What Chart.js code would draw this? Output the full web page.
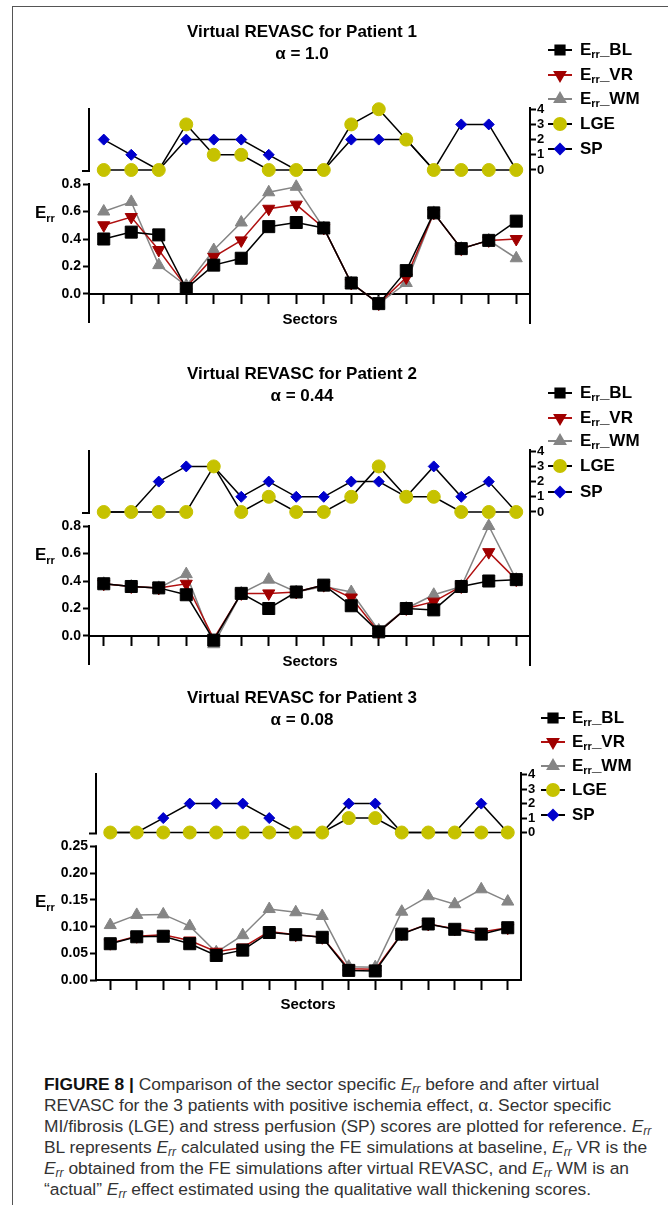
<!DOCTYPE html>
<html>
<head>
<meta charset="utf-8">
<script src="https://cdn.jsdelivr.net/npm/chart.js@4.4.1/dist/chart.umd.min.js"></script>
<style>
  body { margin: 0; background: #fff; }
  #page { position: relative; width: 668px; height: 1205px; overflow: hidden; font-family: "Liberation Sans", Arial, sans-serif; color: #000; }
  .frame-top { position: absolute; left: 12px; top: 6px; width: 656px; height: 1px; background: #555; }
  .frame-left { position: absolute; left: 12px; top: 6px; width: 1px; height: 1199px; background: #555; }
  canvas { position: absolute; left: 0; }
  .title { position: absolute; left: 0; width: 604px; text-align: center; font-weight: bold; font-size: 17px; line-height: 22px; }
  .ylab { position: absolute; font-weight: bold; font-size: 17px; line-height: 20px; }
  .ylab sub { font-size: 11px; vertical-align: -4px; }
  .xlab { position: absolute; width: 200px; text-align: center; font-weight: bold; font-size: 15px; line-height: 20px; }
  .cap { position: absolute; left: 44px; white-space: nowrap; font-size: 17.4px; line-height: 20px; color: #333; }
  .cap b { color: #111; }
  .cap i sub { font-size: 12px; vertical-align: -3px; }
</style>
</head>
<body>
<div id="page">
  <div class="frame-top"></div>
  <div class="frame-left"></div>

  <canvas id="p1" width="668" height="340" style="top:0px"></canvas>
  <canvas id="p2" width="668" height="340" style="top:342px"></canvas>
  <canvas id="p3" width="668" height="330" style="top:680px"></canvas>

  <div class="title" style="top:21px">Virtual REVASC for Patient 1</div>
  <div class="title" style="top:43px">α = 1.0</div>
  <div class="ylab" style="left:35px; top:203px">E<sub>rr</sub></div>
  <div class="xlab" style="left:210px; top:309px">Sectors</div>

  <div class="title" style="top:363px">Virtual REVASC for Patient 2</div>
  <div class="title" style="top:385px">α = 0.44</div>
  <div class="ylab" style="left:35px; top:545px">E<sub>rr</sub></div>
  <div class="xlab" style="left:210px; top:651px">Sectors</div>

  <div class="title" style="top:687px">Virtual REVASC for Patient 3</div>
  <div class="title" style="top:709px">α = 0.08</div>
  <div class="ylab" style="left:35px; top:892px">E<sub>rr</sub></div>
  <div class="xlab" style="left:208px; top:994px">Sectors</div>

  <div class="cap" style="top:1074px"><b>FIGURE 8 |</b> Comparison of the sector specific <i>E<sub>rr</sub></i> before and after virtual</div>
  <div class="cap" style="top:1095px">REVASC for the 3 patients with positive ischemia effect, α. Sector specific</div>
  <div class="cap" style="top:1116px">MI/fibrosis (LGE) and stress perfusion (SP) scores are plotted for reference. <i>E<sub>rr</sub></i></div>
  <div class="cap" style="top:1137px">BL represents <i>E<sub>rr</sub></i> calculated using the FE simulations at baseline, <i>E<sub>rr</sub></i> VR is the</div>
  <div class="cap" style="top:1158px"><i>E<sub>rr</sub></i> obtained from the FE simulations after virtual REVASC, and <i>E<sub>rr</sub></i> WM is an</div>
  <div class="cap" style="top:1179px">“actual” <i>E<sub>rr</sub></i> effect estimated using the qualitative wall thickening scores.</div>
</div>

<script>
  // Sector labels (tick labels are not printed in the figure)
  const SECTORS = ['1', '2', '3', '4', '5', '6', '7', '8', '9', '10', '11', '12', '13', '14', '15', '16'];
  const SCORE_TICKS = [0, 1, 2, 3, 4];
  const ERR_TICKS_12 = [0, 0.2, 0.4, 0.6, 0.8];
  const ERR_TICKS_3 = [0, 0.05, 0.1, 0.15, 0.2, 0.25];

  // Patient 1
  const p1BL = [0.40, 0.45, 0.43, 0.04, 0.21, 0.26, 0.49, 0.52, 0.48, 0.08, -0.07, 0.17, 0.59, 0.33, 0.39, 0.53];
  const p1VR = [0.50, 0.56, 0.32, 0.05, 0.27, 0.39, 0.62, 0.65, 0.48, 0.08, -0.07, 0.12, 0.59, 0.33, 0.39, 0.40];
  const p1WM = [0.60, 0.67, 0.21, 0.06, 0.32, 0.52, 0.74, 0.78, 0.48, 0.08, -0.07, 0.08, 0.59, 0.33, 0.39, 0.26];
  const p1LGE = [0, 0, 0, 3, 1, 1, 0, 0, 0, 3, 4, 2, 0, 0, 0, 0];
  const p1SP = [2, 1, 0, 2, 2, 2, 1, 0, 0, 2, 2, 2, 0, 3, 3, 0];

  // Patient 2
  const p2BL = [0.38, 0.36, 0.35, 0.30, -0.03, 0.31, 0.20, 0.32, 0.37, 0.22, 0.03, 0.20, 0.19, 0.36, 0.40, 0.41];
  const p2VR = [0.38, 0.36, 0.35, 0.38, -0.02, 0.31, 0.31, 0.32, 0.37, 0.28, 0.03, 0.20, 0.25, 0.36, 0.61, 0.41];
  const p2WM = [0.38, 0.36, 0.35, 0.45, -0.06, 0.31, 0.41, 0.32, 0.36, 0.32, 0.04, 0.20, 0.30, 0.36, 0.80, 0.41];
  const p2LGE = [0, 0, 0, 0, 3, 0, 1, 0, 0, 1, 3, 1, 1, 0, 0, 0];
  const p2SP = [0, 0, 2, 3, 3, 1, 2, 1, 1, 2, 2, 1, 3, 1, 2, 0];

  // Patient 3
  const p3BL = [0.068, 0.081, 0.082, 0.068, 0.046, 0.056, 0.089, 0.085, 0.080, 0.018, 0.017, 0.086, 0.105, 0.095, 0.086, 0.098];
  const p3VR = [0.069, 0.082, 0.085, 0.074, 0.053, 0.061, 0.091, 0.085, 0.080, 0.021, 0.020, 0.087, 0.105, 0.096, 0.090, 0.098];
  const p3WM = [0.103, 0.122, 0.123, 0.101, 0.052, 0.084, 0.133, 0.127, 0.120, 0.025, 0.024, 0.128, 0.157, 0.142, 0.170, 0.147];
  const p3LGE = [0, 0, 0, 0, 0, 0, 0, 0, 0, 1, 1, 0, 0, 0, 0, 0];
  const p3SP = [0, 0, 1, 2, 2, 2, 1, 0, 0, 2, 2, 0, 0, 0, 2, 0];

  const FONT = '"Liberation Sans", Arial, sans-serif';

  // Left axis is broken between the score part and the Err part
  const axisBreakPlugin = {
    id: 'axisBreak',
    beforeDatasetsDraw(chart, args, opts) {
      const { ctx, chartArea, scales } = chart;
      const x = chartArea.left - 1;
      const yCap = scales.yS.getPixelForValue(0) + 1;
      const yTopE = scales.yE.getPixelForValue(opts.eTop);
      ctx.save();
      ctx.strokeStyle = '#000';
      ctx.lineWidth = 2;
      ctx.beginPath();
      ctx.moveTo(x, chartArea.top);
      ctx.lineTo(x, yCap);
      ctx.moveTo(x - 7, yCap);
      ctx.lineTo(x + 1, yCap);
      ctx.moveTo(x, yTopE - 1);
      ctx.lineTo(x, chartArea.bottom);
      ctx.stroke();
      ctx.restore();
    }
  };

  // Legend: short line with the marker, then the label (E with "rr" subscript)
  const legendPlugin = {
    id: 'sideLegend',
    afterDraw(chart, args, opts) {
      const ctx = chart.ctx;
      ctx.save();
      chart.data.datasets.forEach((ds, i) => {
        const y = opts.rows[i];
        const x = opts.x;
        ctx.strokeStyle = ds.borderColor;
        ctx.lineWidth = 2;
        ctx.beginPath();
        ctx.moveTo(x - 12, y);
        ctx.lineTo(x + 12, y);
        ctx.stroke();
        ctx.fillStyle = ds.pointBackgroundColor;
        ctx.strokeStyle = ds.pointBackgroundColor;
        Chart.helpers.drawPoint(ctx, {
          pointStyle: ds.pointStyle, rotation: ds.pointRotation || 0,
          radius: ds.legendRadius, borderWidth: 1
        }, x, y);

        ctx.fillStyle = '#000';
        ctx.textBaseline = 'middle';
        ctx.textAlign = 'left';
        let tx = opts.textX;
        const parts = ds.label.split('|');
        ctx.font = 'bold 17px ' + FONT;
        ctx.fillText(parts[0], tx, y);
        tx += ctx.measureText(parts[0]).width;
        if (parts.length > 1) {
          ctx.font = 'bold 11px ' + FONT;
          ctx.fillText(parts[1], tx, y + 5);
          tx += ctx.measureText(parts[1]).width;
          ctx.font = 'bold 17px ' + FONT;
          ctx.fillText(parts[2], tx, y);
        }
      });
      ctx.restore();
    }
  };

  function makePanel(canvasId, bl, vr, wm, lge, sp, L) {
    const ctx = document.getElementById(canvasId).getContext('2d');
    const common = { borderWidth: 1.5, pointBorderWidth: 1, fill: false, tension: 0, clip: false };
    return new Chart(ctx, {
      type: 'line',
      data: {
        labels: SECTORS,
        datasets: [
          Object.assign({
            label: 'E|rr|_BL', data: bl, yAxisID: 'yE',
            borderColor: '#000', pointBackgroundColor: '#000', pointBorderColor: '#000',
            pointStyle: 'rect', pointRadius: 8.5, legendRadius: 6.5
          }, common),
          Object.assign({
            label: 'E|rr|_VR', data: vr, yAxisID: 'yE',
            borderColor: '#b01010', pointBackgroundColor: '#a00000', pointBorderColor: '#a00000',
            pointStyle: 'triangle', pointRotation: 180, pointRadius: 7, legendRadius: 6
          }, common),
          Object.assign({
            label: 'E|rr|_WM', data: wm, yAxisID: 'yE',
            borderColor: '#858585', pointBackgroundColor: '#858585', pointBorderColor: '#858585',
            pointStyle: 'triangle', pointRadius: 7, legendRadius: 6
          }, common),
          Object.assign({
            label: 'LGE', data: lge, yAxisID: 'yS',
            borderColor: '#000', pointBackgroundColor: '#c6c200', pointBorderColor: '#c6c200',
            pointStyle: 'circle', pointRadius: 6.5, legendRadius: 6
          }, common),
          Object.assign({
            label: 'SP', data: sp, yAxisID: 'yS',
            borderColor: '#000', pointBackgroundColor: '#0000cc', pointBorderColor: '#0000cc',
            pointStyle: 'rectRot', pointRadius: 5.5, legendRadius: 5
          }, common)
        ]
      },
      options: {
        responsive: false,
        animation: false,
        devicePixelRatio: 1,
        layout: { padding: { left: 0, right: 0, top: L.top, bottom: L.h - L.bottom } },
        plugins: {
          legend: { display: false },
          tooltip: { enabled: false },
          axisBreak: { eTop: L.eTicks[L.eTicks.length - 1] },
          sideLegend: { x: L.legendX, textX: L.textX, rows: L.rows }
        },
        scales: {
          x: {
            type: 'category',
            offset: true,
            position: { yE: 0 },
            grid: { display: true, offset: false, drawOnChartArea: false, tickLength: 9, tickWidth: 2, tickColor: '#000' },
            border: { display: true, width: 2, color: '#000' },
            ticks: { display: false }
          },
          yE: {
            type: 'linear',
            position: 'left',
            min: L.eMin, max: L.eMax,
            afterFit: s => { s.width = L.left; },
            afterBuildTicks: s => { s.ticks = L.eTicks.map(v => ({ value: v })); },
            grid: { display: true, drawOnChartArea: false, tickLength: 7, tickWidth: 2, tickColor: '#000' },
            border: { display: false },
            ticks: { autoSkip: false, padding: 2, color: '#000', font: { family: FONT, size: 14, weight: 'bold' },
                     callback: v => v.toFixed(L.dec) }
          },
          yS: {
            type: 'linear',
            position: 'right',
            min: L.sMin, max: L.sMax,
            afterFit: s => { s.width = L.w - L.right; },
            afterBuildTicks: s => { s.ticks = SCORE_TICKS.map(v => ({ value: v })); },
            grid: { display: true, drawOnChartArea: false, tickLength: 6, tickWidth: 2, tickColor: '#000' },
            border: { display: true, width: 2, color: '#000' },
            ticks: { autoSkip: false, padding: 1, color: '#000', font: { family: FONT, size: 13, weight: 'bold' },
                     callback: v => String(v) }
          }
        }
      },
      plugins: [axisBreakPlugin, legendPlugin]
    });
  }

  makePanel('p1', p1BL, p1VR, p1WM, p1LGE, p1SP, {
    w: 668, h: 340, left: 90, right: 530, top: 108, bottom: 323,
    sMin: -10.07, sMax: 4.08, eMin: -0.211, eMax: 1.353, eTicks: ERR_TICKS_12, dec: 1,
    legendX: 560, textX: 580, rows: [50, 75, 99, 124, 149]
  });
  makePanel('p2', p2BL, p2VR, p2WM, p2LGE, p2SP, {
    w: 668, h: 340, left: 90, right: 530, top: 108, bottom: 323,
    sMin: -10.07, sMax: 4.08, eMin: -0.211, eMax: 1.353, eTicks: ERR_TICKS_12, dec: 1,
    legendX: 560, textX: 580, rows: [51, 76, 99, 124, 150]
  });
  makePanel('p3', p3BL, p3VR, p3WM, p3LGE, p3SP, {
    w: 668, h: 330, left: 97, right: 521, top: 93, bottom: 300,
    sMin: -10.21, sMax: 4.12, eMin: 0, eMax: 0.388, eTicks: ERR_TICKS_3, dec: 2,
    legendX: 553, textX: 572, rows: [38, 62, 86, 110, 135]
  });
</script>
</body>
</html>
